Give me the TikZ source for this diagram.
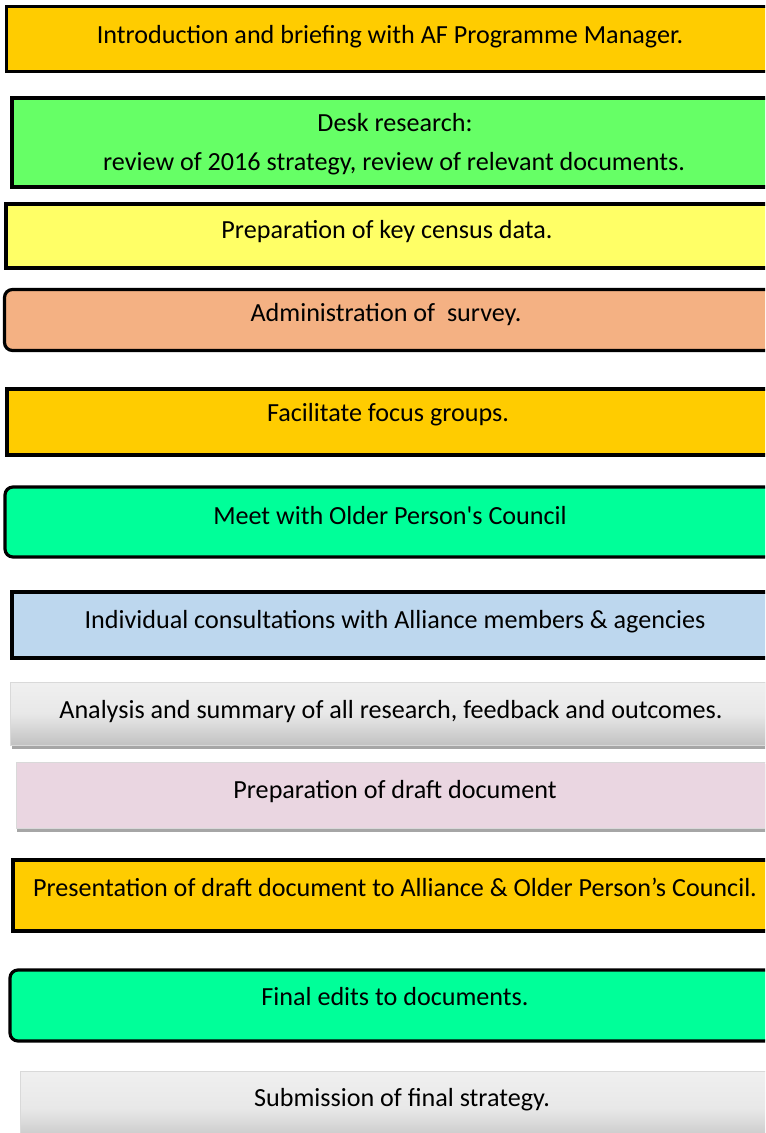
\documentclass[tikz,border=0pt]{standalone}
\usepackage{fontspec}
\setmainfont{Carlito}[Ligatures=TeXOff]
\begin{document}
\begin{tikzpicture}[x=0.75pt,y=-0.75pt,
  box/.style={draw=black, line width=2.4pt},
  rbox/.style={box, rounded corners=6pt},
  gbox/.style={draw=black!15, line width=0.5pt, top color=black!6, bottom color=black!24, middle color=black!9},
  pbox/.style={draw=black!15, line width=0.5pt, fill=pinkfill},
  shadowstrip/.style={fill=black!35, draw=none},
  txt/.style={font=\fontsize{19.6}{23}\selectfont, inner sep=0pt, anchor=base, text=black}
]
\definecolor{orangeY}{HTML}{FFCC00}
\definecolor{greenA}{HTML}{66FF66}
\definecolor{yellowA}{HTML}{FFFF66}
\definecolor{salmon}{HTML}{F4B183}
\definecolor{mint}{HTML}{00FF99}
\definecolor{lightblue}{HTML}{BDD7EE}
\definecolor{pinkfill}{HTML}{EAD6E1}
\useasboundingbox (0,0) rectangle (765,1133);
\clip (0,0) rectangle (765,1133);

% boxes
\draw[box, fill=orangeY] (6.5,6.5) rectangle (775,71.5);
\draw[box, fill=greenA] (12,98) rectangle (780,187);
\draw[box, fill=yellowA] (6,204) rectangle (770,268);
\draw[rbox, fill=salmon] (4.5,289.5) rectangle (775,350.5);
\draw[box, fill=orangeY] (7,389) rectangle (775,455);
\draw[rbox, fill=mint] (5,487) rectangle (776,557);
\draw[box, fill=lightblue] (12,592) rectangle (777,658);
\fill[shadowstrip] (12,682) rectangle (775,749);
\draw[gbox] (10,682) rectangle (772,745);
\fill[shadowstrip] (17,764) rectangle (775,832);
\draw[pbox] (16,762) rectangle (774,828);
\draw[box, fill=orangeY] (13,860) rectangle (776,931);
\draw[rbox, fill=mint] (10,970) rectangle (781,1041);
\draw[gbox] (20,1071) rectangle (784,1145);

% texts
\node[txt] (t1) at (390,43) {Introduction and briefing with AF Programme Manager.};
\node[txt] (t2a) at (395,131) {Desk research:};
\node[txt] (t2b) at (394,170) {review of 2016 strategy, review of relevant documents.};
\node[txt] (t3) at (387,238) {Preparation of key census data.};
\node[txt] (t4) at (386,321) {Administration of\ \ survey.};
\node[txt] (t5) at (388,421) {Facilitate focus groups.};
\node[txt] (t6) at (390,524) {Meet with Older Person's Council};
\node[txt] (t7) at (395,628) {Individual consultations with Alliance members \& agencies};
\node[txt] (t8) at (391,718) {Analysis and summary of all research, feedback and outcomes.};
\node[txt] (t9) at (395,798) {Preparation of draft document};
\node[txt] (t10) at (395,896) {Presentation of draft document to Alliance \& Older Person’s Council.};
\node[txt] (t11) at (395,1005) {Final edits to documents.};
\node[txt] (t12) at (402,1106) {Submission of final strategy.};
\end{tikzpicture}
\end{document}
